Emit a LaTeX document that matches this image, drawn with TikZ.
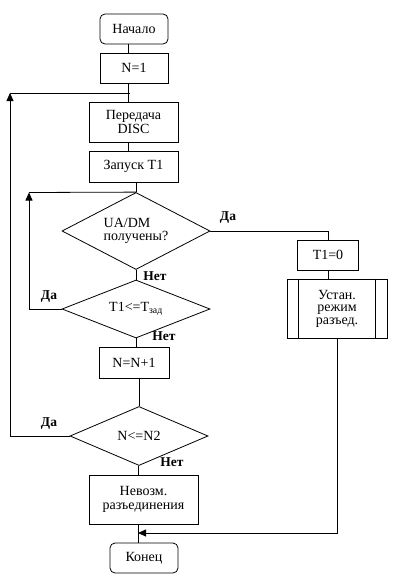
\documentclass[tikz,border=0pt]{standalone}
\usepackage{fontspec}
\setmainfont{Liberation Serif}
\usetikzlibrary{shapes.geometric,arrows.meta,calc}
\begin{document}
\begin{tikzpicture}[x=1pt,y=-1pt,
  line width=0.8pt,
  font=\fontsize{14}{15.5}\selectfont,
  box/.style={draw,rectangle,inner sep=0pt,align=center},
  term/.style={box,rounded corners=5pt},
  dec/.style={draw,diamond,inner sep=0pt,align=center},
  lbl/.style={font=\fontsize{13.5}{15}\selectfont\bfseries,inner sep=0pt},
  arr/.style={-{Triangle[length=8pt,width=7pt]}}]
\useasboundingbox (0,0) rectangle (420,581);
\node[term,minimum width=68pt,minimum height=30pt] (start) at (134,29) {Начало};
\node[box,minimum width=68pt,minimum height=30pt] (n1) at (134,68) {N=1};
\node[box,minimum width=89pt,minimum height=40pt] (pd) at (133.5,122) {Передача\\[-2pt]DISC};
\node[box,minimum width=89pt,minimum height=31pt] (zap) at (133.5,166.5) {Запуск T1};
\node[dec,align=left,aspect=2,minimum width=148pt,minimum height=77pt] (d1) at (136,231) {UA/DM\\[-2pt]получены?};
\node[box,minimum width=61pt,minimum height=30pt] (t0) at (328,255) {T1=0};
\node[box,minimum width=100pt,minimum height=59pt] (ust) at (337,308.5) {Устан.\\[-3pt]режим\\[-3pt]разъед.};
\node[dec,aspect=2.5,minimum width=148pt,minimum height=58pt] (d2) at (136,309) {T1<=T\textsubscript{зад}};
\node[box,minimum width=70pt,minimum height=31pt] (nn1) at (134,362.5) {N=N+1};
\node[dec,aspect=2.3,minimum width=138pt,minimum height=59pt] (d3) at (139,436) {N<=N2};
\node[box,minimum width=109pt,minimum height=49pt] (nev) at (143.5,499.5) {Невозм.\\[-2pt]разъединения};
\node[term,minimum width=68pt,minimum height=30pt] (fin) at (144,558) {Конец};

\coordinate (sA) at (128,0);
\coordinate (sB) at (138,0);
\coordinate (c1) at (10,93);
\coordinate (j1) at (130,93);
\coordinate (c2) at (29,192.5);
\coordinate (m) at (138,533);

\draw ([xshift=12pt]ust.north west) -- ([xshift=12pt]ust.south west);
\draw ([xshift=-12pt]ust.north east) -- ([xshift=-12pt]ust.south east);

\draw (start.south -| sA) -- (n1.north -| sA);
\draw (n1.south -| sA) -- (pd.north -| sA);
\draw (pd.south -| sA) -- (zap.north -| sA);
\draw (zap.south -| d1.north) -- (d1.north);
\draw (d1.south) -- (d2.north);
\draw (d2.south) -- (nn1.north -| d2.south);
\draw (nn1.south -| d3.north) -- (d3.north);
\draw (d3.south -| sB) -- (nev.north -| sB);
\draw (nev.south -| sB) -- (fin.north -| sB);

\draw[arr] (d3.west) -| (c1);
\draw (c1) -- (j1);
\draw[arr] (d2.west) -| (c2);
\draw (c2) -- (d1.north);
\draw (d1.east) -| (t0.north);
\draw (t0.south) -- (ust.north -| t0.south);
\draw[arr] (ust.south) |- (m);

\node[lbl] (l1) at (228,218) {Да};
\node[lbl] (l2) at (155,276) {Нет};
\node[lbl] (l3) at (49,297) {Да};
\node[lbl] (l4) at (164,336) {Нет};
\node[lbl] (l5) at (49,424) {Да};
\node[lbl] (l6) at (172,462) {Нет};
\end{tikzpicture}
\end{document}
